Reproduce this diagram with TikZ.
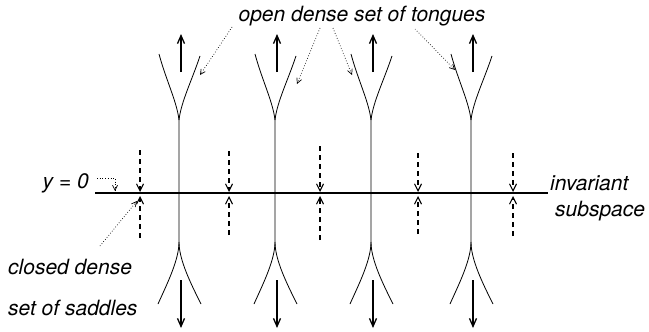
\documentclass[tikz,border=0pt]{standalone}
\usepackage{fontspec}
\setmainfont{TeX Gyre Heros}
\usetikzlibrary{arrows.meta}

\begin{document}
\begin{tikzpicture}[x=1pt, y=-1pt,
    every node/.style={font=\fontsize{21}{25}\selectfont\itshape, inner sep=0pt},
    tongue/.style={line width=0.8pt},
    flow/.style={line width=1.3pt, -{Straight Barb[length=8pt, width=7pt]}},
    sad/.style={line width=1.1pt, dash pattern=on 5pt off 4pt, -{Straight Barb[length=7pt, width=7pt]}},
    lead/.style={dotted, line width=0.7pt, -{Straight Barb[length=5pt, width=5pt]}}]
  \useasboundingbox (0,0) rectangle (649,332);

  % invariant subspace
  \coordinate (h0) at (95,193);
  \coordinate (h1) at (548,193);
  \draw[line width=1.4pt] (h0) -- (h1);

  % tongues, with flow out of them
  \foreach \x [count=\i] in {179,275,371,471} {
    \draw[tongue] (\x-20,54) .. controls (\x-13,80) and (\x-2,102) .. (\x,120)
      -- (\x,242) .. controls (\x,260) and (\x-12,284) .. (\x-21,304);
    \draw[tongue] (\x+21,56) .. controls (\x+13,80) and (\x+2,102) .. (\x,120);
    \draw[tongue] (\x,242) .. controls (\x,260) and (\x+12,284) .. (\x+22,304);
    \coordinate (ua\i) at (\x+2,72);
    \coordinate (ub\i) at (\x+2,34);
    \coordinate (da\i) at (\x+2,280);
    \coordinate (db\i) at (\x+2,328);
    \draw[flow] (ua\i) -- (ub\i);
    \draw[flow] (da\i) -- (db\i);
  }

  % saddles on the subspace
  \foreach \x/\a/\b [count=\i] in {140/150/238, 229/151/235, 320/146/240, 418/153/234, 513/153/236} {
    \coordinate (sa\i) at (\x,\a);
    \coordinate (sb\i) at (\x,\b);
    \coordinate (st\i) at (\x,192);
    \coordinate (sl\i) at (\x,196);
    \draw[sad] (sa\i) -- (st\i);
    \draw[sad] (sb\i) -- (sl\i);
  }

  % labels
  \node[anchor=east] (yz) at (89,183) {y = 0};
  \node (tng) at (362,16) {open dense set of tongues};
  \node[anchor=west] (inv) at (550,183) {invariant};
  \node[anchor=west] (sub) at (555,211) {subspace};
  \node[anchor=west] (cl) at (8,267) {closed dense};
  \node[anchor=west] (sd) at (8,308) {set of saddles};

  % leaders
  \coordinate (y0) at (97,178);
  \coordinate (y1) at (115,191);
  \draw[lead] (y0) -| (y1);
  \coordinate (c0) at (100,246);
  \coordinate (c1) at (137,201);
  \draw[lead] (c0) -- (c1);
  \coordinate (t0a) at (232,27);  \coordinate (t1a) at (200,75);
  \coordinate (t0b) at (320,28);  \coordinate (t1b) at (297,84);
  \coordinate (t0c) at (333,28);  \coordinate (t1c) at (352,75);
  \coordinate (t0d) at (415,29);  \coordinate (t1d) at (455,70);
  \draw[lead] (t0a) -- (t1a);
  \draw[lead] (t0b) -- (t1b);
  \draw[lead] (t0c) -- (t1c);
  \draw[lead] (t0d) -- (t1d);
\end{tikzpicture}
\end{document}
